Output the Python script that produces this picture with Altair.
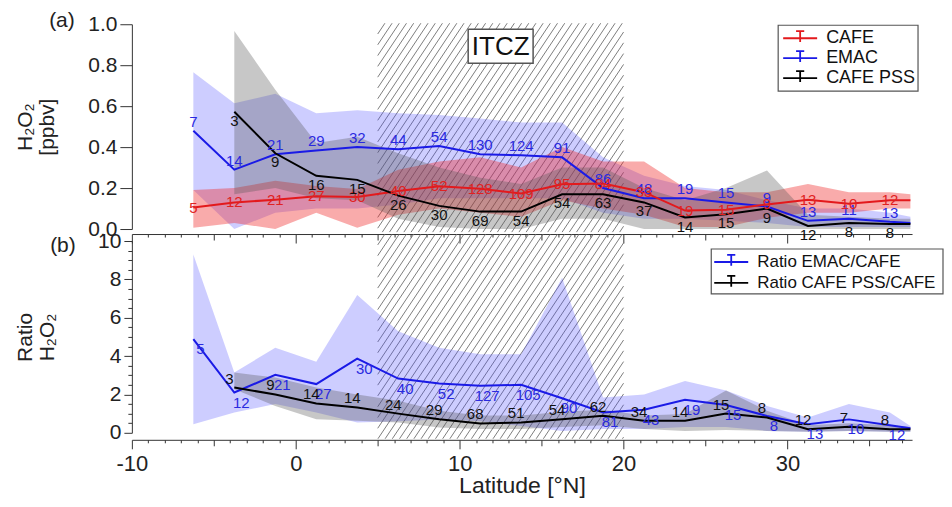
import altair as alt
import numpy as np
import pandas as pd

FONT = "Liberation Sans"

# ---------------- data ----------------
lat = [-6.25, -3.75, -1.25, 1.25, 3.75, 6.25, 8.75, 11.25, 13.75, 16.25,
       18.75, 21.25, 23.75, 26.25, 28.75, 31.25, 33.75, 36.25, 37.5]

# panel (a): H2O2 [ppbv]
cafe    = [0.105, 0.13, 0.143, 0.16, 0.156, 0.186, 0.209, 0.197, 0.173, 0.219,
           0.222, 0.18, 0.09, 0.094, 0.12, 0.143, 0.124, 0.14, 0.14]
cafe_hi = [0.19, 0.20, 0.236, 0.21, 0.195, 0.29, 0.33, 0.35, 0.30, 0.40,
           0.33, 0.33, 0.20, 0.18, 0.18, 0.22, 0.18, 0.18, 0.17]
cafe_lo = [0.006, 0.03, 0.0, 0.08, 0.006, 0.07, 0.1, 0.08, 0.06, 0.14,
           0.1, 0.07, 0.01, 0.01, 0.055, 0.08, 0.08, 0.1, 0.1]
cafe_n  = [5, 12, 21, 27, 30, 40, 52, 128, 109, 95, 84, 33, 19, 15, 9, 13, 10, 12, None]

emac    = [0.48, 0.29, 0.365, 0.384, 0.40, 0.39, 0.405, 0.365, 0.36, 0.35,
           0.20, 0.15, 0.15, 0.13, 0.11, 0.04, 0.05, 0.035, 0.03]
emac_hi = [0.765, 0.614, 0.66, 0.565, 0.58, 0.565, 0.557, 0.54, 0.52, 0.52,
           0.35, 0.26, 0.21, 0.19, 0.14, 0.10, 0.10, 0.08, 0.06]
emac_lo = [0.19, 0.0, 0.08, 0.1, 0.1, 0.12, 0.15, 0.15, 0.15, 0.15,
           0.08, 0.05, 0.05, 0.04, 0.03, 0.01, 0.01, 0.01, 0.01]
emac_n  = [7, 14, 21, 29, 32, 44, 54, 130, 124, 91, 86, 48, 19, 15, 9, 13, 11, 13, None]

pss     = [None, 0.573, 0.37, 0.26, 0.24, 0.163, 0.113, 0.085, 0.085, 0.17,
           0.17, 0.13, 0.056, 0.072, 0.10, 0.015, 0.03, 0.024, 0.024]
pss_hi  = [None, 0.967, 0.68, 0.42, 0.45, 0.37, 0.30, 0.25, 0.22, 0.30,
           0.30, 0.20, 0.14, 0.20, 0.286, 0.07, 0.06, 0.05, 0.05]
pss_lo  = [None, 0.17, 0.2, 0.15, 0.14, 0.05, 0.01, 0.0, 0.0, 0.05,
           0.05, 0.0, 0.0, 0.0, 0.0, 0.0, 0.0, 0.0, 0.0]
pss_n   = [None, 3, 9, 16, 15, 26, 30, 69, 54, 54, 63, 37, 14, 15, 9, 12, 8, 8, None]

# panel (b): ratios
r_emac    = [4.88, 2.1, 3.02, 2.54, 3.87, 2.83, 2.57, 2.45, 2.5, 1.8,
             1.06, 1.2, 1.72, 1.45, 0.88, 0.45, 0.7, 0.4, 0.24]
r_emac_hi = [9.3, 3.14, 4.44, 3.71, 7.19, 5.3, 4.44, 4.1, 4.1, 8.09,
             1.84, 2.0, 2.7, 2.2, 1.4, 0.8, 1.5, 1.06, 0.36]
r_emac_lo = [0.45, 1.06, 1.5, 1.06, 0.54, 0.6, 0.7, 0.6, 0.36, 0.1,
             0.2, 0.2, 0.3, 0.3, 0.1, 0.05, 0.1, 0.05, 0.05]
r_emac_n  = [5, 12, 21, 27, 30, 40, 52, 127, 105, 90, 81, 43, 19, 15, 8, 13, 10, 12, None]

r_pss     = [None, 2.36, 2.0, 1.53, 1.32, 1.0, 0.71, 0.49, 0.54, 0.71,
             0.89, 0.63, 0.63, 1.0, 0.8, 0.19, 0.31, 0.19, 0.19]
r_pss_hi  = [None, 3.14, 2.88, 2.36, 2.0, 1.67, 1.15, 0.9, 0.9, 1.1,
             1.2, 0.9, 0.98, 2.2, 1.15, 0.4, 0.5, 0.4, 0.3]
r_pss_lo  = [None, 2.27, 1.4, 0.71, 0.63, 0.54, 0.28, 0.2, 0.2, 0.3,
             0.4, 0.2, 0.1, 0.15, 0.1, 0.05, 0.1, 0.05, 0.05]
r_pss_n   = [None, 3, 9, 14, 14, 24, 29, 68, 51, 54, 62, 34, 14, 15, 8, 12, 7, 8, None]

ITCZ = [5, 20]
X_DOMAIN = [-10, 37.6]
YA_DOMAIN = [0, 1.0]
YB_DOMAIN = [0, 10]

legend_a_names = ["CAFE", "EMAC", "CAFE PSS"]
legend_b_names = ["Ratio EMAC/CAFE", "Ratio CAFE PSS/CAFE"]

# ---------------- style ----------------
RED, BLUE, BLACK = "#e3191c", "#1a1ae6", "#000000"
W, HA, HB = 781, 205, 192
AXC = "#333333"
T_PATH = "M-1,0L1,0M0,-0.42L0,0.22M-0.24,-0.42L0.24,-0.42"
BOX_PATH = "M-1,-0.523L1,-0.523L1,0.523L-1,0.523Z"


def series_df(values, lo=None, hi=None, n=None):
    rows = []
    for i, la in enumerate(lat):
        if values[i] is None:
            continue
        rows.append({
            "lat": la, "v": values[i],
            "lo": lo[i] if lo is not None else np.nan,
            "hi": hi[i] if hi is not None else np.nan,
            "n": "" if (n is None or n[i] is None) else str(n[i]),
        })
    return pd.DataFrame(rows)


def hatch_df(x0, x1, y0, y1, px_x, px_y, spacing=7.2, slope=1.5):
    R = (x1 - x0) * px_x
    H = (y1 - y0) * px_y
    rows = []
    for xb in np.arange(-H / slope, R, spacing):
        tmin = max(0.0, -xb)
        tmax = min(H / slope, R - xb)
        if tmax > tmin:
            rows.append({
                "lat": x0 + (xb + tmin) / px_x, "v": y0 + tmin * slope / px_y,
                "lat2": x0 + (xb + tmax) / px_x, "v2": y0 + tmax * slope / px_y,
            })
    return pd.DataFrame(rows)


xscale = alt.Scale(domain=X_DOMAIN, nice=False, zero=False)
tick_cond_x = {"condition": [{"test": "datum.value % 10 === 0", "value": 9},
                             {"test": "datum.value % 5 === 0", "value": 6}],
               "value": 3}

ax_a = alt.Axis(orient="bottom", offset=5, values=list(range(-10, 38)), labels=False,
                tickSize=tick_cond_x, title=None, grid=False, domainColor=AXC,
                tickColor=AXC, labelOverlap=False)
ax_b = alt.Axis(orient="bottom", offset=7, values=list(range(-10, 38)), format="d",
                labelExpr="datum.value % 10 === 0 ? replace(datum.label, '\u2212', '-') : ''",
                tickSize=tick_cond_x, labelFontSize=22, labelPadding=5,
                labelOverlap=False, labelFlush=False, labelColor="#222",
                title="Latitude [°N]", titleFontSize=23, titleFontWeight="normal",
                titleColor="#222", titlePadding=0, grid=False, domainColor=AXC,
                tickColor=AXC)

ay_a = alt.Axis(values=[0, 0.2, 0.4, 0.6, 0.8, 1.0], format=".1f", tickSize=12,
                labelPadding=3, labelFontSize=21, labelColor="#222",
                title=["H₂O₂", "[ppbv]"], titleFontSize=21, titleFontWeight="normal",
                titleColor="#222", titlePadding=24, titleLineHeight=22,
                minExtent=50, maxExtent=50, grid=False, domainColor=AXC,
                tickColor=AXC, labelOverlap=False)
ay_b = alt.Axis(values=[i * 0.5 for i in range(21)], format=".0f",
                labelExpr="datum.value % 2 === 0 ? datum.label : ''",
                tickSize={"condition": {"test": "datum.value % 2 === 0", "value": 8}, "value": 4},
                labelPadding=3, labelFontSize=21, labelColor="#222",
                title=["Ratio", "H₂O₂"], titleFontSize=21, titleFontWeight="normal",
                titleColor="#222", titlePadding=24, titleLineHeight=22,
                minExtent=50, maxExtent=50, grid=False, domainColor=AXC,
                tickColor=AXC, labelOverlap=False)


def X(axis):
    return alt.X("lat:Q", scale=xscale, axis=axis)


def Y(field, dom, axis):
    return alt.Y(f"{field}:Q", scale=alt.Scale(domain=dom, nice=False, zero=False), axis=axis)


def band(df, color, opacity, dom, axis, xa):
    return alt.Chart(df).mark_area(color=color, opacity=opacity, strokeWidth=0).encode(
        x=X(xa), y=Y("lo", dom, axis), y2="hi:Q")


def line(df, color, dom, axis, xa):
    return alt.Chart(df).mark_line(color=color, strokeWidth=2).encode(
        x=X(xa), y=Y("v", dom, axis))


def labels(df, color, dom, axis, xa, dx=0, dy=0):
    d = df[df["n"] != ""]
    return alt.Chart(d).mark_text(color=color, fontSize=15, font=FONT, dx=dx, dy=dy).encode(
        x=X(xa), y=Y("v", dom, axis), text="n:N")


def hatch(df, dom, axis, xa):
    return alt.Chart(df).mark_rule(color="#6f6f6f", strokeWidth=0.9).encode(
        x=X(xa), x2="lat2:Q", y=Y("v", dom, axis), y2="v2:Q")


ONE = pd.DataFrame({"k": [0]})


def legend_layers(names, colors, box, rows_y, sym_x, text_x, fs):
    out = [alt.Chart(ONE).mark_rect(fill="white", stroke="#555555", strokeWidth=1.2).encode(
        x=alt.value(box[0]), x2=alt.value(box[2]), y=alt.value(box[1]), y2=alt.value(box[3]))]
    for name, col, yy in zip(names, colors, rows_y):
        out.append(alt.Chart(ONE).mark_point(shape=T_PATH, size=1156, filled=False, stroke=col,
                                             strokeWidth=1.8, opacity=1).encode(
            x=alt.value(sym_x), y=alt.value(yy)))
        out.append(alt.Chart(ONE).mark_text(text=name, align="left", baseline="middle",
                                            fontSize=fs, font=FONT, color="#111").encode(
            x=alt.value(text_x), y=alt.value(yy)))
    return out


def tag(txt, x, y):
    return alt.Chart(ONE).mark_text(
        text=txt, fontSize=21, font=FONT, color="#222", baseline="middle").encode(
        x=alt.value(x), y=alt.value(y))


# invisible anchor fixing the top-left corner of the drawing
anchor = alt.Chart(ONE).mark_rule(color="white", strokeWidth=0.5, opacity=0.01).encode(
    x=alt.value(-123), x2=alt.value(-121), y=alt.value(-15), y2=alt.value(-14))

# ---------------- panel (a) ----------------
d_cafe = series_df(cafe, cafe_lo, cafe_hi, cafe_n)
d_emac = series_df(emac, emac_lo, emac_hi, emac_n)
d_pss = series_df(pss, pss_lo, pss_hi, pss_n)
px_x = W / (X_DOMAIN[1] - X_DOMAIN[0])
h_a = hatch_df(ITCZ[0], ITCZ[1], -0.015, 1.005, px_x, HA / (YA_DOMAIN[1] - YA_DOMAIN[0]))

itcz_df = pd.DataFrame({"lat": [(ITCZ[0] + ITCZ[1]) / 2], "label": ["ITCZ"]})
itcz_box = alt.Chart(itcz_df).mark_point(shape=BOX_PATH, size=4225, filled=True, fill="white",
                                         stroke="#555555", strokeWidth=1.5, opacity=1).encode(
    x=X(ax_a), y=alt.value(22))
itcz_txt = alt.Chart(itcz_df).mark_text(fontSize=26, font=FONT, color="#111", baseline="middle").encode(
    x=X(ax_a), y=alt.value(23), text="label:N")

layers_a = [
    anchor,
    hatch(h_a, YA_DOMAIN, ay_a, ax_a),
    band(d_emac, "#4d4dff", 0.28, YA_DOMAIN, ay_a, ax_a),
    band(d_cafe, "#ee2222", 0.38, YA_DOMAIN, ay_a, ax_a),
    band(d_pss, "#555555", 0.33, YA_DOMAIN, ay_a, ax_a),
    line(d_emac, BLUE, YA_DOMAIN, ay_a, ax_a),
    line(d_cafe, RED, YA_DOMAIN, ay_a, ax_a),
    line(d_pss, BLACK, YA_DOMAIN, ay_a, ax_a),
    labels(d_emac, "#2a2ae0", YA_DOMAIN, ay_a, ax_a, dy=-9),
    labels(d_cafe, "#e02222", YA_DOMAIN, ay_a, ax_a, dy=0),
    labels(d_pss, "#111111", YA_DOMAIN, ay_a, ax_a, dy=9),
    itcz_box, itcz_txt,
] + legend_layers(legend_a_names, [RED, BLUE, BLACK], (647, 1, 787, 67), [14, 34, 54], 669, 695, 18) + [
    tag("(a)", -70, -3)]

panel_a = alt.layer(*layers_a).properties(width=W, height=HA)

# ---------------- panel (b) ----------------
d_re = series_df(r_emac, r_emac_lo, r_emac_hi, r_emac_n)
d_rp = series_df(r_pss, r_pss_lo, r_pss_hi, r_pss_n)
h_b = hatch_df(ITCZ[0], ITCZ[1], -0.31, 10.36, px_x, HB / (YB_DOMAIN[1] - YB_DOMAIN[0]))

layers_b = [
    hatch(h_b, YB_DOMAIN, ay_b, ax_b),
    band(d_re, "#4d4dff", 0.28, YB_DOMAIN, ay_b, ax_b),
    band(d_rp, "#555555", 0.33, YB_DOMAIN, ay_b, ax_b),
    line(d_re, BLUE, YB_DOMAIN, ay_b, ax_b),
    line(d_rp, BLACK, YB_DOMAIN, ay_b, ax_b),
    labels(d_re, "#2a2ae0", YB_DOMAIN, ay_b, ax_b, dx=7, dy=10),
    labels(d_rp, "#111111", YB_DOMAIN, ay_b, ax_b, dx=-5, dy=-9),
] + legend_layers(legend_b_names, [BLUE, BLACK], (580, 8, 812, 53), [21, 42], 600, 626, 17) + [
    tag("(b)", -69, 5)]

panel_b = alt.layer(*layers_b).properties(width=W, height=HB)

chart = alt.vconcat(panel_a, panel_b, spacing=12, bounds="flush").properties(
    padding=0,
).configure(font=FONT).configure_view(stroke=None)

chart.save("out.html", embed_options={"renderer": "svg", "actions": False})
